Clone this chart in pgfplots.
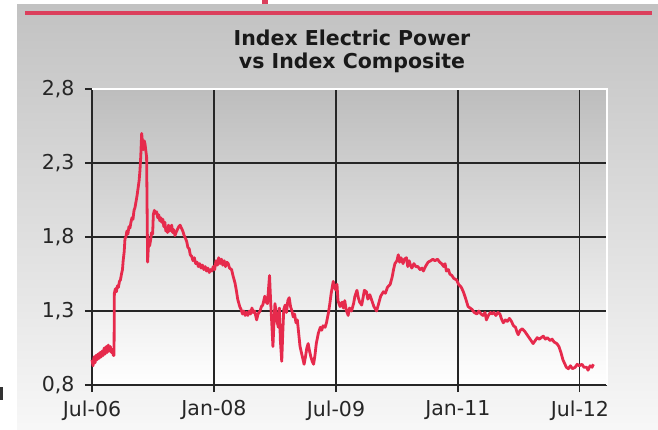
\documentclass[border=0pt]{standalone}
\usepackage{fontspec}
\setmainfont{DejaVu Sans}
\usepackage{pgfplots}
\pgfplotsset{compat=1.18}
\definecolor{linered}{HTML}{E62A4C}
\definecolor{barred}{HTML}{DB3F5C}
\definecolor{panelgray}{HTML}{C2C2C2}
\definecolor{plotgray}{HTML}{BDBDBD}
\begin{document}
\begin{tikzpicture}[x=1pt,y=1pt]
\path[use as bounding box] (0,0) rectangle (658,429);
% outer panel
\shade[top color=panelgray, bottom color=white!97!black] (17,0) rectangle (658,424);
\draw[barred, line width=4pt] (25,416) -- (652,416);
\fill[barred] (262,425) rectangle (268,429);
\fill[black!80] (0,29) rectangle (3,42);
% title
\node[anchor=base, font=\fontsize{20.5}{24}\selectfont\bfseries, text=black!90] at (352,383) {Index Electric Power};
\node[anchor=base, font=\fontsize{20.5}{24}\selectfont\bfseries, text=black!90] at (352,360) {vs Index Composite};
% plot background
\shade[top color=plotgray, bottom color=white] (92,44) rectangle (607,340);
\begin{axis}[
  at={(92pt,44pt)}, anchor=origin,
  width=515pt, height=296pt, scale only axis,
  xmin=0, xmax=76, ymin=0.8, ymax=2.8,
  axis lines=left, axis line style={-, black!85, line width=1.2pt},
  xtick={0,18,36,54,72},
  xticklabels={Jul-06,Jan-08,Jul-09,Jan-11,Jul-12},
  ytick={0.8,1.3,1.8,2.3,2.8},
  yticklabel style={xshift=-7pt, /pgf/number format/.cd, use comma, fixed, fixed zerofill, precision=1, assume math mode=true},
  xticklabel style={yshift=-5pt},
  tick label style={font=\fontsize{20.5}{24}\selectfont, text=black!85},
  tick align=outside, major tick length=7pt,
  tick style={black!85, line width=1.2pt},
  grid=major, major grid style={black!85, line width=1.2pt},
  clip=false,
]
\addplot[linered, line width=2.8pt, line join=round] coordinates {
(0,0.97)(0.15,0.93)(0.3,0.99)(0.45,0.95)(0.6,1.00)(0.75,0.97)(0.9,1.01)(1.05,0.98)(1.2,1.02)(1.35,0.99)(1.5,1.03)(1.65,1.00)(1.8,1.05)(1.95,1.01)(2.1,1.06)(2.25,1.02)(2.4,1.07)(2.55,1.03)(2.7,1.06)(2.85,1.02)(3.0,1.04)(3.15,1.00)(3.25,1.00)(3.3,1.42)
(3.45,1.45)(3.6,1.43)(3.75,1.47)(3.9,1.46)(4.05,1.50)(4.2,1.51)(4.35,1.55)(4.5,1.58)(4.6,1.64)(4.75,1.70)(4.87,1.79)(5.0,1.80)(5.15,1.84)(5.3,1.82)(5.45,1.87)(5.6,1.86)(5.75,1.90)(5.9,1.93)(6.05,1.92)(6.2,1.98)(6.35,2.00)(6.5,2.04)(6.65,2.08)(6.83,2.14)(6.95,2.18)(7.08,2.25)(7.2,2.35)(7.33,2.50)(7.45,2.44)(7.57,2.39)(7.7,2.45)(7.82,2.43)(7.95,2.38)(8.06,2.34)(8.15,1.90)(8.21,1.63)(8.3,1.72)(8.4,1.78)(8.5,1.74)(8.65,1.78)(8.8,1.83)(8.95,1.82)(9.05,1.95)(9.2,1.98)(9.35,1.96)(9.54,1.97)(9.7,1.93)(9.85,1.95)(10.0,1.91)(10.15,1.93)(10.28,1.90)(10.45,1.92)(10.6,1.87)(10.75,1.90)(10.9,1.84)(11.0,1.86)(11.15,1.83)(11.3,1.88)(11.45,1.84)(11.6,1.86)(11.76,1.88)(11.9,1.83)(12.05,1.85)(12.25,1.81)(12.4,1.83)(12.6,1.85)(12.8,1.87)(13.0,1.88)(13.2,1.86)(13.4,1.84)(13.6,1.81)(13.8,1.79)(13.97,1.77)(14.15,1.73)(14.35,1.72)(14.5,1.68)(14.7,1.67)(14.9,1.64)(15.1,1.66)(15.3,1.62)(15.5,1.63)(15.7,1.60)(15.9,1.62)(16.1,1.59)(16.3,1.61)(16.5,1.58)(16.7,1.60)(16.9,1.57)(17.1,1.59)(17.3,1.56)(17.5,1.58)(17.7,1.57)(17.9,1.60)(18.1,1.58)(18.3,1.64)(18.5,1.61)(18.7,1.66)(18.9,1.62)(19.1,1.65)(19.3,1.61)(19.5,1.64)(19.7,1.60)(19.9,1.63)(20.1,1.62)(20.3,1.59)(20.6,1.58)(20.8,1.54)(21.1,1.49)(21.3,1.44)(21.5,1.38)(21.8,1.33)(22.0,1.31)(22.2,1.28)(22.4,1.30)(22.6,1.27)(22.8,1.29)(23.0,1.27)(23.2,1.30)(23.4,1.28)(23.6,1.32)(23.8,1.29)(24.0,1.30)(24.2,1.26)(24.3,1.24)(24.5,1.28)(24.8,1.30)(25.0,1.33)(25.2,1.34)(25.5,1.40)(25.7,1.36)(25.9,1.35)(26.05,1.45)(26.2,1.54)(26.3,1.43)(26.4,1.33)(26.55,1.20)(26.7,1.06)(26.85,1.22)(27.0,1.35)(27.15,1.30)(27.3,1.23)(27.5,1.19)(27.65,1.32)(27.8,1.10)(28.0,0.96)(28.15,1.15)(28.3,1.31)(28.5,1.34)(28.7,1.29)(28.9,1.37)(29.1,1.39)(29.3,1.33)(29.5,1.30)(29.7,1.26)(29.9,1.28)(30.1,1.22)(30.3,1.24)(30.5,1.15)(30.7,1.06)(30.9,1.02)(31.1,0.98)(31.3,0.94)(31.5,0.99)(31.7,1.05)(31.9,1.08)(32.1,1.03)(32.3,0.99)(32.5,0.96)(32.7,0.94)(32.9,1.00)(33.1,1.08)(33.4,1.15)(33.7,1.19)(33.9,1.17)(34.1,1.20)(34.4,1.19)(34.6,1.22)(34.9,1.29)(35.1,1.35)(35.3,1.42)(35.6,1.50)(35.8,1.46)(36.0,1.44)(36.15,1.48)(36.3,1.37)(36.6,1.33)(36.9,1.36)(37.1,1.32)(37.3,1.37)(37.5,1.31)(37.8,1.27)(38.0,1.32)(38.3,1.30)(38.6,1.35)(38.8,1.40)(39.1,1.44)(39.3,1.39)(39.5,1.36)(39.8,1.34)(40.0,1.39)(40.2,1.44)(40.5,1.43)(40.7,1.38)(41.0,1.41)(41.3,1.37)(41.6,1.33)(42.0,1.30)(42.3,1.35)(42.6,1.40)(43.0,1.43)(43.3,1.42)(43.6,1.46)(44.0,1.48)(44.3,1.53)(44.5,1.58)(44.7,1.62)(45.0,1.64)(45.2,1.68)(45.4,1.63)(45.6,1.66)(45.9,1.62)(46.1,1.65)(46.4,1.66)(46.6,1.60)(46.8,1.64)(47.0,1.61)(47.2,1.59)(47.5,1.62)(47.8,1.60)(48.1,1.60)(48.4,1.58)(48.7,1.59)(48.9,1.57)(49.2,1.60)(49.6,1.63)(50.0,1.64)(50.3,1.65)(50.6,1.64)(51.0,1.65)(51.3,1.63)(51.6,1.62)(51.9,1.60)(52.1,1.62)(52.3,1.57)(52.6,1.58)(52.8,1.55)(53.1,1.54)(53.4,1.52)(53.8,1.51)(54.1,1.48)(54.5,1.46)(54.8,1.43)(55.1,1.39)(55.3,1.36)(55.5,1.33)(55.8,1.32)(56.1,1.31)(56.4,1.29)(56.8,1.28)(57.1,1.30)(57.4,1.28)(57.7,1.27)(58.0,1.29)(58.2,1.24)(58.5,1.27)(58.8,1.29)(59.0,1.28)(59.3,1.29)(59.6,1.27)(59.9,1.29)(60.2,1.28)(60.4,1.25)(60.7,1.22)(61.0,1.24)(61.3,1.23)(61.6,1.25)(61.9,1.23)(62.2,1.20)(62.5,1.19)(62.7,1.16)(62.9,1.14)(63.2,1.17)(63.5,1.18)(63.9,1.16)(64.2,1.14)(64.5,1.12)(64.8,1.10)(65.1,1.08)(65.4,1.10)(65.7,1.12)(66.0,1.11)(66.3,1.12)(66.6,1.13)(66.9,1.11)(67.2,1.12)(67.6,1.10)(67.9,1.11)(68.2,1.09)(68.6,1.08)(68.9,1.06)(69.2,1.02)(69.5,0.97)(69.8,0.94)(70.0,0.92)(70.3,0.91)(70.6,0.93)(70.9,0.91)(71.3,0.92)(71.6,0.94)(71.9,0.93)(72.3,0.94)(72.6,0.92)(73.0,0.92)(73.2,0.90)(73.5,0.93)(73.8,0.92)(74.0,0.94)
};
\draw[white, line width=1.5pt] (axis cs:0,2.8) -- (axis cs:76,2.8) -- (axis cs:76,0.8);
\end{axis}
\end{tikzpicture}
\end{document}
